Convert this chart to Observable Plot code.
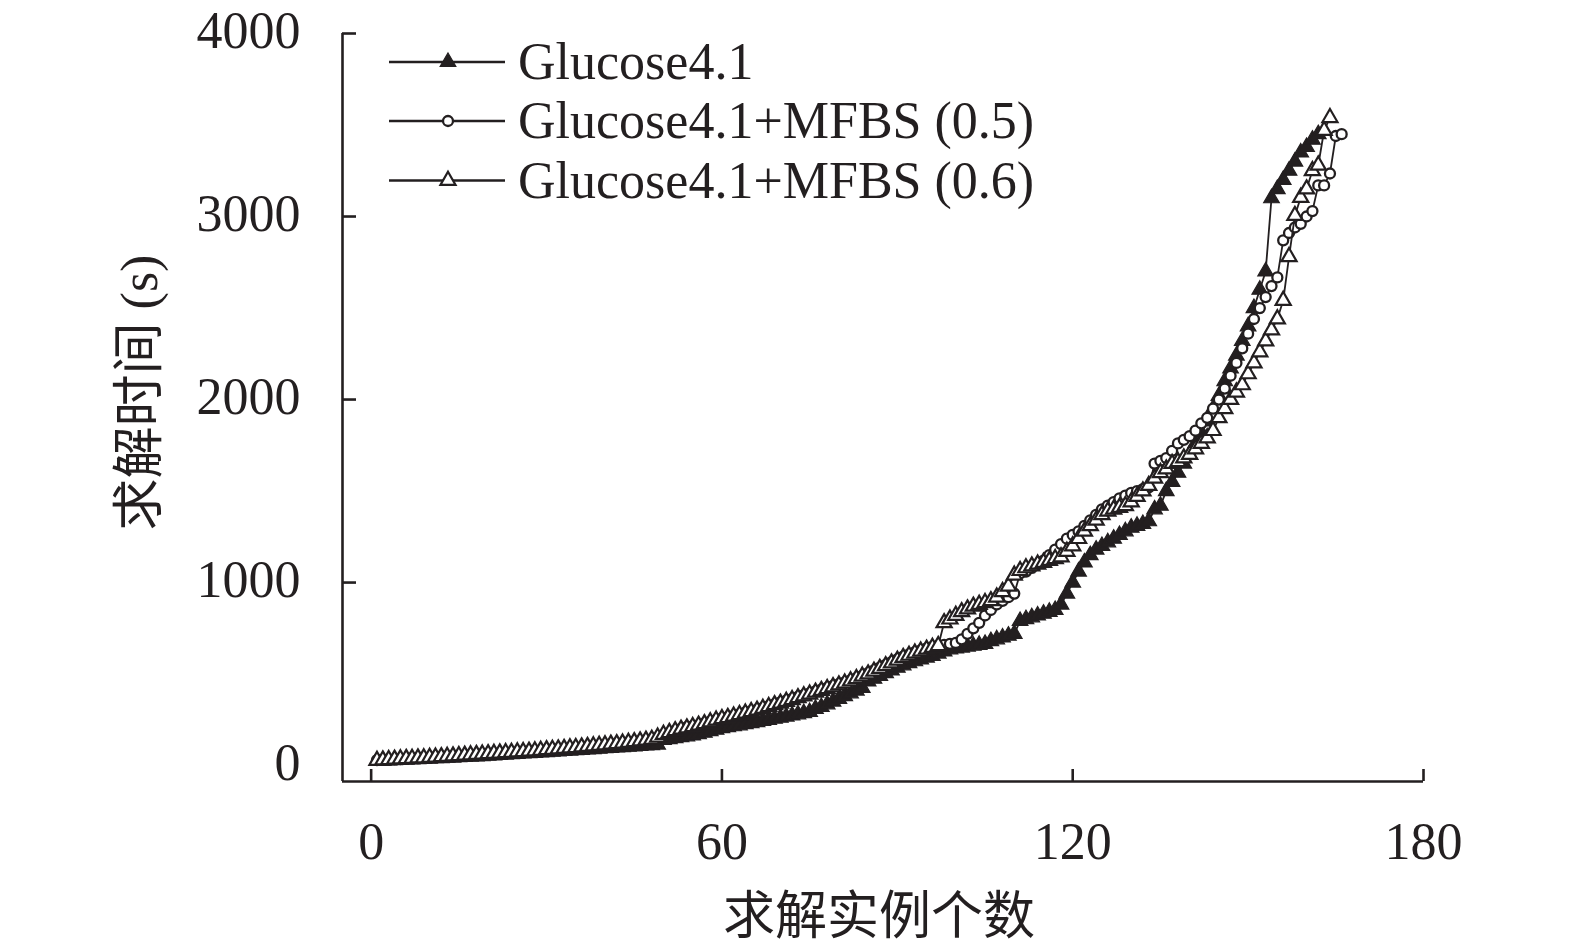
<!DOCTYPE html>
<html>
<head>
<meta charset="utf-8">
<script src="https://cdn.jsdelivr.net/npm/d3@7"></script>
<script src="https://cdn.jsdelivr.net/npm/@observablehq/plot@0.6"></script>
<style>
  html, body { margin: 0; padding: 0; background: #fff; }
  #wrap { position: relative; width: 1575px; height: 951px; overflow: hidden; }
  #legend { position: absolute; left: 0; top: 0; }
</style>
</head>
<body>
<div id="wrap"></div>
<script>
// ---- data ----
const seriesNames = ["Glucose4.1", "Glucose4.1+MFBS (0.5)", "Glucose4.1+MFBS (0.6)"];

const glucose = [
  25,27,28,30,31,33,34,35,37,38,
  40,41,43,44,46,47,49,50,52,54,
  56,58,60,62,64,66,68,70,72,74,
  76,78,80,82,84,86,88,90,92,95,
  97,99,101,103,105,107,110,112,115,
  140,145,150,155,160,165,172,180,188,196,205,
  210,215,220,226,232,238,244,250,256,262,268,274,280,287,293,
  310,320,335,350,365,380,395,410,425,
  460,475,490,505,520,535,548,560,570,580,590,
  600,612,624,635,640,
  645,650,655,660,665,680,690,700,710,720,
  790,800,810,820,830,840,850,
  880,940,1000,1060,1110,1150,
  1180,1200,1220,1240,1260,1280,1300,1310,1320,1335,
  1400,1420,1500,1550,1600,1650,1700,
  1760,1820,1880,1950,2020,2100,2170,2240,2320,2400,2500,2600,2700,
  3100,3150,3200,3250,3300,3350,3380,3420,3450
];

const mfbs05 = [
  30,32,33,35,36,38,40,41,43,45,
  47,48,50,52,54,56,58,60,62,64,
  66,68,70,72,74,76,78,80,82,85,
  87,90,92,95,98,100,103,106,110,113,
  116,120,123,127,130,134,138,142,150,160,
  175,190,200,210,215,220,230,240,250,258,
  265,272,280,290,298,306,315,325,335,345,
  355,365,375,385,395,405,415,425,435,445,
  455,465,478,490,505,520,535,550,565,580,
  595,608,620,630,640,648,655,660,665,670,
  690,720,750,780,820,850,880,900,920,940,
  1050,1060,1080,1100,1120,1150,1180,1210,1240,1260,
  1280,1310,1340,1370,1400,1420,1440,1460,1475,1490,
  1500,1510,1520,1650,1665,1680,1720,1760,1780,1800,
  1830,1870,1900,1950,2000,2060,2130,2200,2280,2360,
  2440,2500,2560,2620,2667,
  2870,2910,2940,2960,3000,3030,3170,3170,3235,3440,3450
];

const mfbs06 = [
  28,30,32,34,36,38,39,41,42,44,
  46,48,50,52,54,56,58,60,62,64,
  66,68,70,72,74,76,78,80,83,86,
  88,90,93,96,98,101,104,107,110,113,
  116,119,122,126,130,134,138,143,155,170,
  180,190,198,205,212,220,228,238,248,256,
  262,270,278,286,294,302,312,322,332,340,
  350,360,370,380,390,400,410,420,430,440,
  450,462,475,488,500,515,530,545,560,575,
  590,602,614,625,635,645,655,
  780,800,820,840,855,870,880,890,900,920,950,980,
  1040,1065,1080,1090,1100,1110,1120,1130,1140,1170,1200,
  1240,1280,1310,1340,1370,1390,1400,1410,1420,1440,
  1470,1500,1530,1570,1600,1620,1650,1660,1680,1700,1730,1760,1790,
  1830,1900,1950,2000,2040,2080,2140,2200,2260,2320,2380,2440,2541,2780,
  3005,3104,3150,3250,3280,3470,3540
];

const xTicks = [0, 60, 120, 180];
const yTickLabels = [0, 1000, 2000, 3000, 4000];
const yTickMarks = [1000, 2000, 3000, 4000];
const xDomain = [-4.9, 180];
const yDomain = [-87, 4000];
const xTitle = "求解实例个数";
const yTitle = "求解时间 (s)";

// ---- build ----
const ink = "#231f20";
const serif = "'Liberation Serif', 'Times New Roman', 'Noto Sans CJK SC', serif";
const fs = 52;
const rows = (arr) => arr.map((v, i) => ({n: i + 1, t: v}));
const d1 = rows(glucose), d2 = rows(mfbs05), d3s = rows(mfbs06);

const sym = [
  {symbol: "triangle", r: 5.8, fill: ink, sw: 1.2},
  {symbol: "circle", r: 5.0, fill: "white", sw: 2.3},
  {symbol: "triangle", r: 5.6, fill: "white", sw: 2.2}
];

const chart = Plot.plot({
  width: 1575,
  height: 951,
  marginLeft: 342,
  marginRight: 152,
  marginTop: 33,
  marginBottom: 170,
  x: {domain: xDomain},
  y: {domain: yDomain},
  style: {fontFamily: serif, fontSize: fs + "px", color: ink, background: "white", overflow: "visible"},
  marks: [
    // axis lines
    Plot.ruleX([xDomain[0]], {stroke: ink, strokeWidth: 2.6}),
    Plot.ruleY([yDomain[0]], {stroke: ink, strokeWidth: 2.6}),
    // x axis: inward ticks + labels
    Plot.axisX({anchor: "bottom", ticks: xTicks, tickSize: -12, tickPadding: 53, strokeWidth: 2.6, label: null, tickFormat: d => String(d), fontSize: fs}),
    // y axis labels and inward ticks
    Plot.axisY({anchor: "left", ticks: yTickLabels, tickSize: 0, tickPadding: 42, label: null, tickFormat: d => String(d), fontSize: fs, dy: -2}),
    Plot.axisY({anchor: "left", ticks: yTickMarks, tickSize: -14, text: null, label: null, strokeWidth: 2.6}),
    // series 1: filled triangles
    Plot.line(d1, {x: "n", y: "t", stroke: ink, strokeWidth: 1.8}),
    Plot.dot(d1, {x: "n", y: "t", symbol: sym[0].symbol, r: sym[0].r, fill: sym[0].fill, stroke: ink, strokeWidth: sym[0].sw}),
    // series 2: open circles
    Plot.line(d2, {x: "n", y: "t", stroke: ink, strokeWidth: 1.8}),
    Plot.dot(d2, {x: "n", y: "t", symbol: sym[1].symbol, r: sym[1].r, fill: sym[1].fill, stroke: ink, strokeWidth: sym[1].sw}),
    // series 3: open triangles
    Plot.line(d3s, {x: "n", y: "t", stroke: ink, strokeWidth: 1.8}),
    Plot.dot(d3s, {x: "n", y: "t", symbol: sym[2].symbol, r: sym[2].r, fill: sym[2].fill, stroke: ink, strokeWidth: sym[2].sw}),
    // axis titles
    Plot.text([yTitle], {frameAnchor: "left", dx: -202, dy: -15, rotate: -90, textAnchor: "middle", lineAnchor: "middle", fontSize: fs, fill: ink, fontFamily: serif}),
    Plot.text([xTitle], {frameAnchor: "bottom", dx: -4, dy: 136, textAnchor: "middle", lineAnchor: "middle", fontSize: fs, fill: ink, fontFamily: serif})
  ]
});

const wrap = document.getElementById("wrap");
wrap.appendChild(chart);

// ---- legend overlay ----
const legend = d3.select(wrap).append("svg")
  .attr("id", "legend")
  .attr("width", 1575).attr("height", 951);
const legendSym = [d3.symbolTriangle, d3.symbolCircle, d3.symbolTriangle];
const rowY = [62, 121, 180.5];
seriesNames.forEach((name, i) => {
  const g = legend.append("g").attr("transform", `translate(0,${rowY[i]})`);
  g.append("line").attr("x1", 389).attr("x2", 505).attr("y1", 0).attr("y2", 0)
    .attr("stroke", ink).attr("stroke-width", 2.6);
  g.append("path")
    .attr("d", d3.symbol(legendSym[i], Math.PI * sym[i].r * sym[i].r)())
    .attr("transform", "translate(448,0)")
    .attr("fill", sym[i].fill).attr("stroke", ink).attr("stroke-width", sym[i].sw);
  g.append("text").attr("x", 518).attr("y", 0).attr("dy", "0.33em")
    .attr("font-family", serif).attr("font-size", fs).attr("fill", ink)
    .text(name);
});
</script>
</body>
</html>
